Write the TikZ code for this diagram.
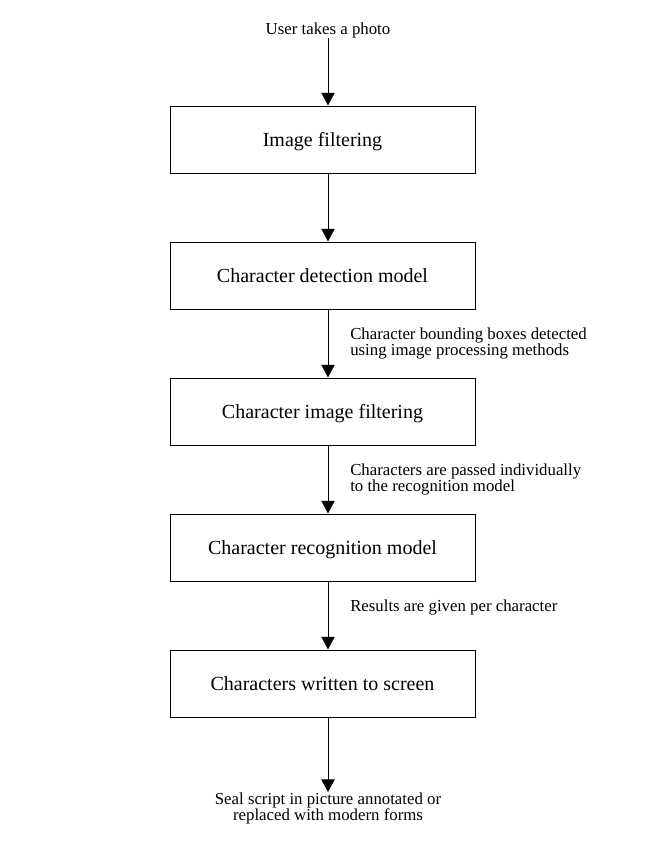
\documentclass[tikz,border=0pt]{standalone}
\usepackage{fontspec}
\setmainfont{Liberation Serif}
\usetikzlibrary{positioning,arrows.meta}
\tikzstyle{stage}=[rectangle,draw,line width=0.75pt,minimum width=228.75pt,
                minimum height=50.25pt,text height=10.5pt,text depth=0.7pt,
                font=\fontsize{15}{17}\selectfont]
\tikzstyle{note}=[inner sep=0pt,align=left,font=\fontsize{12.6}{12}\selectfont]
\tikzstyle{flow}=[draw,line width=0.75pt,-{Triangle[width=10pt,length=9.5pt]}]
\begin{document}
\begin{tikzpicture}[x=0.75pt,y=-0.75pt,node distance=51pt]
\useasboundingbox (0,0) rectangle (645,851);
\node [note,anchor=base] (photo) at (328,34.3) {User takes a photo};
\node [stage] (filt) at (322.5,139.5) {Image filtering};
\node [stage,below=of filt] (detect) {Character detection model};
\node [stage,below=of detect] (charfilt) {Character image filtering};
\node [stage,below=of charfilt] (recog) {Character recognition model};
\node [stage,below=of recog] (screen) {Characters written to screen};
\node [note,anchor=base,align=center] (seal) at (328,820)
  {Seal script in picture annotated or\\replaced with modern forms};
% arrows
\draw [flow] (photo) -- (photo |- filt.north);
\draw [flow] (filt.south -| photo) -- (detect.north -| photo);
\draw [flow] (detect.south -| photo) -- (charfilt.north -| photo);
\draw [flow] (charfilt.south -| photo) -- (recog.north -| photo);
\draw [flow] (recog.south -| photo) -- (screen.north -| photo);
\draw [flow] (screen.south -| photo) -- (seal.north -| photo);
% labels
\node [note,anchor=base west] (bboxes) at (350,355.3)
  {Character bounding boxes detected\\using image processing methods};
\node [note,anchor=base west] (single) at (350,491.3)
  {Characters are passed individually\\to the recognition model};
\node [note,anchor=base west] (percar) at (350,611.3)
  {Results are given per character};
\end{tikzpicture}
\end{document}
